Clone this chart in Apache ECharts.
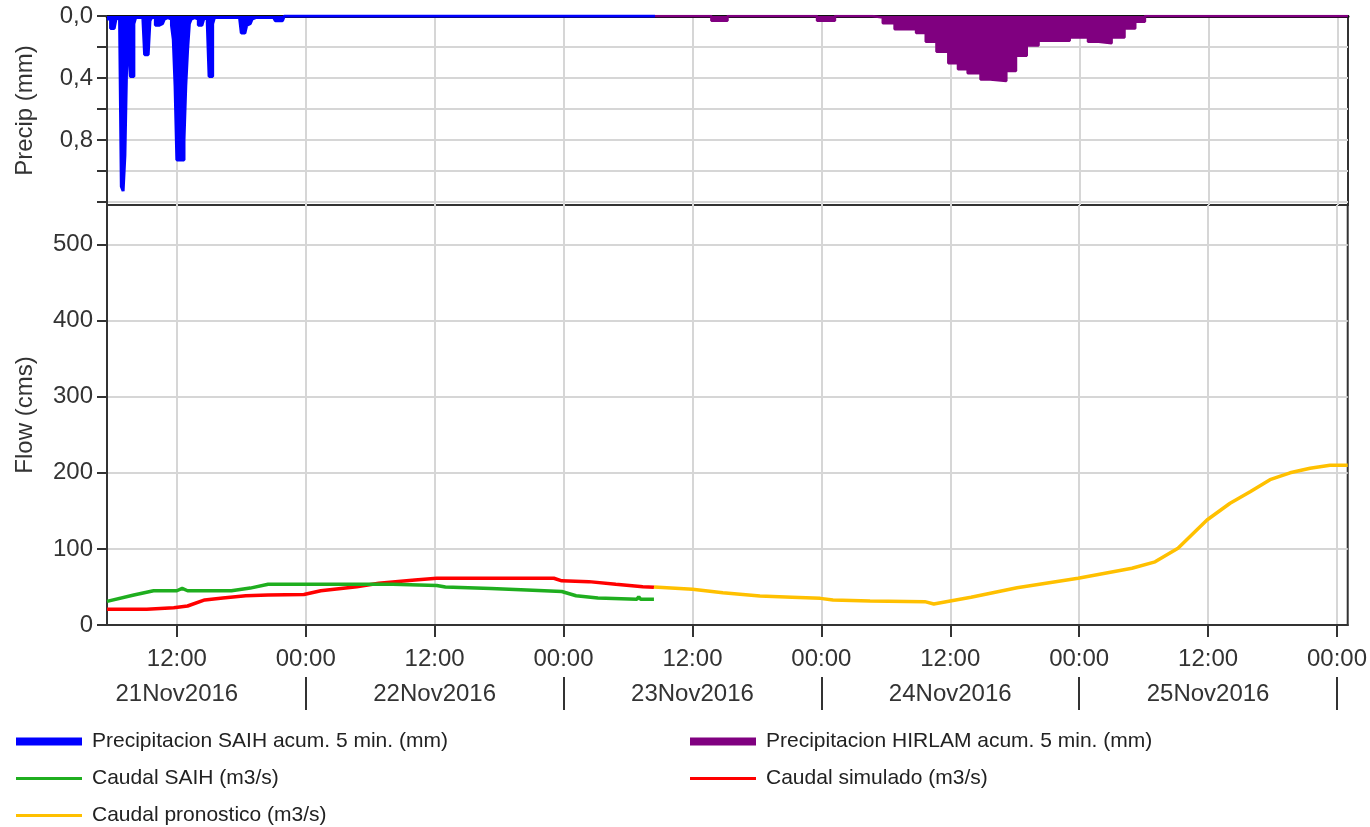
<!DOCTYPE html>
<html>
<head>
<meta charset="utf-8">
<title>Precipitacion y caudal</title>
<script src="https://cdn.jsdelivr.net/npm/echarts@6/dist/echarts.min.js"></script>
<style>
  html, body { margin: 0; padding: 0; background: #fff; }
  #chart { width: 1370px; height: 827px; }
</style>
</head>
<body>
<div id="chart"></div>
<script>
// time range of the x axis
const timeMin = '2016-11-21 05:30';
const timeMax = '2016-11-26 01:00';

// tick labels
const hourTickTimes = ['2016-11-21 12:00', '2016-11-22 00:00', '2016-11-22 12:00', '2016-11-23 00:00',
    '2016-11-23 12:00', '2016-11-24 00:00', '2016-11-24 12:00', '2016-11-25 00:00',
    '2016-11-25 12:00', '2016-11-26 00:00'];
const hourTickLabels = ['12:00', '00:00', '12:00', '00:00', '12:00', '00:00', '12:00', '00:00', '12:00', '00:00'];
const dayLabelTimes = ['2016-11-21 12:00', '2016-11-22 12:00', '2016-11-23 12:00', '2016-11-24 12:00', '2016-11-25 12:00'];
const dayLabels = ['21Nov2016', '22Nov2016', '23Nov2016', '24Nov2016', '25Nov2016'];
const daySeparatorTimes = ['2016-11-22 00:00', '2016-11-23 00:00', '2016-11-24 00:00', '2016-11-25 00:00', '2016-11-26 00:00'];
const precipTicks = [0, 0.2, 0.4, 0.6, 0.8, 1.0, 1.2];
const precipLabelValues = [0, 0.4, 0.8];
const precipLabels = ['0,0', '0,4', '0,8'];
const flowTicks = [0, 100, 200, 300, 400, 500];

// Precipitacion SAIH (mm), one value every 10 minutes from saihStart
const saihStart = '2016-11-21 05:30';
const saihPrecip = [
    0.02, 0.02, 0.08,
    0.08, 0.08, 0.02, 0.01, 0.02, 1.10,
    1.13, 0.90, 0.30, 0.20, 0.39, 0.39,
    0.05, 0.01, 0.01, 0.01, 0.01, 0.01,
    0.25, 0.25, 0.25, 0.03, 0.01, 0.01,
    0.06, 0.06, 0.06, 0.05, 0.06, 0.02,
    0.01, 0.01, 0.02, 0.06, 0.15, 0.45,
    0.93, 0.93, 0.92, 0.93, 0.80, 0.45,
    0.22, 0.05, 0.02, 0.01, 0.01, 0.02,
    0.06, 0.06, 0.05, 0.02, 0.01, 0.05,
    0.39, 0.39, 0.05, 0.01, 0.01, 0.01,
    0.01, 0.02, 0.01, 0.01, 0.01, 0.02,
    0.01, 0.01, 0.01, 0.01, 0.01, 0.02,
    0.11, 0.11, 0.11, 0.06, 0.05, 0.05,
    0.02, 0.01, 0.01, 0.01, 0.01, 0.01,
    0.01, 0.01, 0.01, 0.01, 0.01, 0.01,
    0.01, 0.03, 0.03, 0.02, 0.03, 0.03,
    0
];
const saihEnd = '2016-11-23 08:30';

// Precipitacion HIRLAM (mm), value holds until the next time
const hirlamTimes = ['2016-11-23 08:30', '2016-11-23 13:45', '2016-11-23 15:15', '2016-11-23 23:35', '2016-11-24 01:15',
    '2016-11-24 04:42', '2016-11-24 05:42', '2016-11-24 06:48', '2016-11-24 08:48', '2016-11-24 09:42',
    '2016-11-24 10:42', '2016-11-24 11:48', '2016-11-24 12:42', '2016-11-24 13:36', '2016-11-24 14:48',
    '2016-11-24 15:42', '2016-11-24 17:12', '2016-11-24 18:06', '2016-11-24 19:06', '2016-11-24 20:12',
    '2016-11-24 23:06', '2016-11-25 00:48', '2016-11-25 01:48', '2016-11-25 03:00', '2016-11-25 04:12',
    '2016-11-25 05:12', '2016-11-25 06:06', '2016-11-26 01:00'];
const hirlamPrecip = [0, 0.03, 0, 0.03, 0,
    0.01, 0.047, 0.086, 0.11, 0.166,
    0.23, 0.305, 0.344, 0.37, 0.41,
    0.42, 0.355, 0.256, 0.19, 0.16,
    0.138, 0.166, 0.176, 0.138, 0.08,
    0.037, 0, 0];

// Caudal SAIH (m3/s)
const saihFlowTimes = ['2016-11-21 05:30', '2016-11-21 08:00', '2016-11-21 09:50', '2016-11-21 12:00', '2016-11-21 12:30',
    '2016-11-21 13:00', '2016-11-21 13:45', '2016-11-21 17:05', '2016-11-21 18:50', '2016-11-21 20:30',
    '2016-11-22 08:06', '2016-11-22 12:12', '2016-11-22 13:00', '2016-11-22 17:14', '2016-11-22 20:35',
    '2016-11-22 23:50', '2016-11-23 01:10', '2016-11-23 03:12', '2016-11-23 06:50', '2016-11-23 07:00',
    '2016-11-23 07:10', '2016-11-23 08:25'];
const saihFlow = [31, 39.5, 45, 45, 48,
    45, 45, 45, 48.5, 53.5,
    53.5, 52, 50, 48, 46,
    44, 38.5, 35.5, 34, 37,
    34, 34];

// Caudal simulado (m3/s)
const simFlowTimes = ['2016-11-21 05:30', '2016-11-21 09:12', '2016-11-21 11:43', '2016-11-21 13:00', '2016-11-21 14:36',
    '2016-11-21 16:17', '2016-11-21 18:25', '2016-11-21 20:30', '2016-11-21 23:50', '2016-11-22 01:24',
    '2016-11-22 04:45', '2016-11-22 06:48', '2016-11-22 10:10', '2016-11-22 12:12', '2016-11-22 23:06',
    '2016-11-22 23:50', '2016-11-23 02:21', '2016-11-23 04:52', '2016-11-23 07:23', '2016-11-23 08:25'];
const simFlow = [20.6, 20.6, 22.8, 25, 33,
    35.5, 38.5, 39.5, 40, 45,
    50.4, 54.8, 59, 61.4, 61.4,
    58, 57, 53.5, 50.4, 49.6];

// Caudal pronostico (m3/s)
const fcstFlowTimes = ['2016-11-23 08:25', '2016-11-23 12:00', '2016-11-23 14:50', '2016-11-23 18:17', '2016-11-23 21:16',
    '2016-11-23 23:54', '2016-11-24 01:05', '2016-11-24 04:32', '2016-11-24 09:38', '2016-11-24 10:28',
    '2016-11-24 12:00', '2016-11-24 13:56', '2016-11-24 18:13', '2016-11-24 23:54', '2016-11-25 04:55',
    '2016-11-25 07:04', '2016-11-25 09:12', '2016-11-25 11:54', '2016-11-25 14:03', '2016-11-25 15:55',
    '2016-11-25 17:46', '2016-11-25 19:38', '2016-11-25 21:30', '2016-11-25 23:21', '2016-11-26 01:00'];
const fcstFlow = [50, 47, 42.5, 38, 36.5,
    35, 33, 31.6, 30.7, 27.6,
    31.6, 36.5, 49, 61.4, 74.6,
    83, 101, 138, 160, 175,
    191, 200, 206, 210, 210];

const FONT = '"Liberation Sans", Arial, sans-serif';
const AXIS_COLOR = '#333';
const GRID_COLOR = '#d6d6d6';

function toMs(s) {
    const [d, t] = s.split(' ');
    const [y, mo, da] = d.split('-').map(Number);
    const [h, mi] = t.split(':').map(Number);
    return new Date(y, mo - 1, da, h, mi).getTime();
}

function pairs(times, values) {
    return times.map((t, i) => [toMs(t), values[i]]);
}

const saihStartMs = toMs(saihStart);
const saihData = saihPrecip.map((v, i) => [saihStartMs + i * 10 * 60 * 1000, v]);
saihData.push([toMs(saihEnd), 0]);

const hourTickMs = hourTickTimes.map(toMs);
const dayLabelMs = dayLabelTimes.map(toMs);

function legendItem(name, left, top, h, color) {
    return {
        left: left, top: top,
        itemWidth: 66, itemHeight: h,
        selectedMode: false,
        textStyle: { fontSize: 21, color: '#222', fontFamily: FONT, padding: [0, 0, 0, 5] },
        data: [{ name: name, icon: 'rect', itemStyle: { color: color, borderWidth: 0 } }]
    };
}

const chart = echarts.init(document.getElementById('chart'));

chart.setOption({
    animation: false,
    backgroundColor: '#fff',
    textStyle: { fontFamily: FONT },
    grid: [
        { left: 107, right: 22, top: 16, height: 189, show: true, borderColor: AXIS_COLOR, borderWidth: 2 },
        { left: 107, right: 22, top: 205, height: 420, show: true, borderColor: AXIS_COLOR, borderWidth: 2 }
    ],
    xAxis: [
        {
            gridIndex: 0, type: 'value', min: toMs(timeMin), max: toMs(timeMax),
            axisLine: { lineStyle: { color: '#111', width: 3 } },
            axisTick: { show: false, customValues: hourTickMs },
            axisLabel: { show: false },
            splitLine: { show: true, lineStyle: { color: GRID_COLOR, width: 2 } }
        },
        {
            gridIndex: 1, type: 'value', min: toMs(timeMin), max: toMs(timeMax),
            axisLine: { lineStyle: { color: AXIS_COLOR, width: 2 } },
            axisTick: { customValues: hourTickMs, length: 12, lineStyle: { color: AXIS_COLOR, width: 2 } },
            axisLabel: {
                customValues: hourTickMs, margin: 22, fontSize: 24, color: '#333', fontFamily: FONT,
                formatter: v => hourTickLabels[hourTickMs.indexOf(v)]
            },
            splitLine: { show: true, lineStyle: { color: GRID_COLOR, width: 2 } }
        },
        {
            gridIndex: 1, type: 'value', min: toMs(timeMin), max: toMs(timeMax),
            position: 'bottom', offset: 52,
            axisLine: { show: false },
            axisTick: { show: true, customValues: daySeparatorTimes.map(toMs), length: 33, lineStyle: { color: AXIS_COLOR, width: 2 } },
            axisLabel: {
                customValues: dayLabelMs, margin: 5, fontSize: 24, color: '#333', fontFamily: FONT,
                formatter: v => dayLabels[dayLabelMs.indexOf(v)]
            },
            splitLine: { show: false }
        }
    ],
    yAxis: [
        {
            gridIndex: 0, type: 'value', inverse: true, min: 0, max: 1.22,
            name: 'Precip (mm)', nameLocation: 'middle', nameGap: 70,
            nameTextStyle: { fontSize: 24, color: '#333', fontFamily: FONT },
            axisLine: { show: true, lineStyle: { color: AXIS_COLOR, width: 2 } },
            axisTick: { show: true, customValues: precipTicks, length: 10, lineStyle: { color: AXIS_COLOR, width: 2 } },
            axisLabel: {
                customValues: precipLabelValues, margin: 14, fontSize: 24, color: '#333', fontFamily: FONT,
                formatter: v => precipLabels[precipLabelValues.indexOf(v)]
            },
            splitLine: { show: true, lineStyle: { color: GRID_COLOR, width: 2 } }
        },
        {
            gridIndex: 1, type: 'value', min: 0, max: 552,
            name: 'Flow (cms)', nameLocation: 'middle', nameGap: 70,
            nameTextStyle: { fontSize: 24, color: '#333', fontFamily: FONT },
            axisLine: { show: true, lineStyle: { color: AXIS_COLOR, width: 2 } },
            axisTick: { show: true, customValues: flowTicks, length: 10, lineStyle: { color: AXIS_COLOR, width: 2 } },
            axisLabel: { customValues: flowTicks, margin: 14, fontSize: 24, color: '#333', fontFamily: FONT },
            splitLine: { show: true, lineStyle: { color: GRID_COLOR, width: 2 } }
        }
    ],
    legend: [
        legendItem('Precipitacion SAIH acum. 5 min. (mm)', 11, 726, 8, '#0000ff'),
        legendItem('Precipitacion HIRLAM acum. 5 min. (mm)', 685, 726, 8, '#800080'),
        legendItem('Caudal SAIH (m3/s)', 11, 763, 3, '#1fae1f'),
        legendItem('Caudal simulado (m3/s)', 685, 763, 3, '#ff0000'),
        legendItem('Caudal pronostico (m3/s)', 11, 800, 3, '#ffc000')
    ],
    series: [
        {
            name: 'Precipitacion SAIH acum. 5 min. (mm)', type: 'line',
            xAxisIndex: 0, yAxisIndex: 0, step: 'end', symbol: 'none', z: 4,
            lineStyle: { color: '#0000ff', width: 3 },
            itemStyle: { color: '#0000ff' },
            areaStyle: { color: '#0000ff', opacity: 1 },
            data: saihData
        },
        {
            name: 'Precipitacion HIRLAM acum. 5 min. (mm)', type: 'line',
            xAxisIndex: 0, yAxisIndex: 0, step: 'end', symbol: 'none', z: 4,
            lineStyle: { color: '#800080', width: 2.5 },
            itemStyle: { color: '#800080' },
            areaStyle: { color: '#800080', opacity: 1 },
            data: pairs(hirlamTimes, hirlamPrecip)
        },
        {
            name: 'Caudal SAIH (m3/s)', type: 'line',
            xAxisIndex: 1, yAxisIndex: 1, symbol: 'none', z: 5,
            lineStyle: { color: '#1fae1f', width: 3.5 },
            itemStyle: { color: '#1fae1f' },
            data: pairs(saihFlowTimes, saihFlow)
        },
        {
            name: 'Caudal simulado (m3/s)', type: 'line',
            xAxisIndex: 1, yAxisIndex: 1, symbol: 'none', z: 4,
            lineStyle: { color: '#ff0000', width: 3.5 },
            itemStyle: { color: '#ff0000' },
            data: pairs(simFlowTimes, simFlow)
        },
        {
            name: 'Caudal pronostico (m3/s)', type: 'line',
            xAxisIndex: 1, yAxisIndex: 1, symbol: 'none', z: 4,
            lineStyle: { color: '#ffc000', width: 3.5 },
            itemStyle: { color: '#ffc000' },
            data: pairs(fcstFlowTimes, fcstFlow)
        }
    ]
});
</script>
</body>
</html>
